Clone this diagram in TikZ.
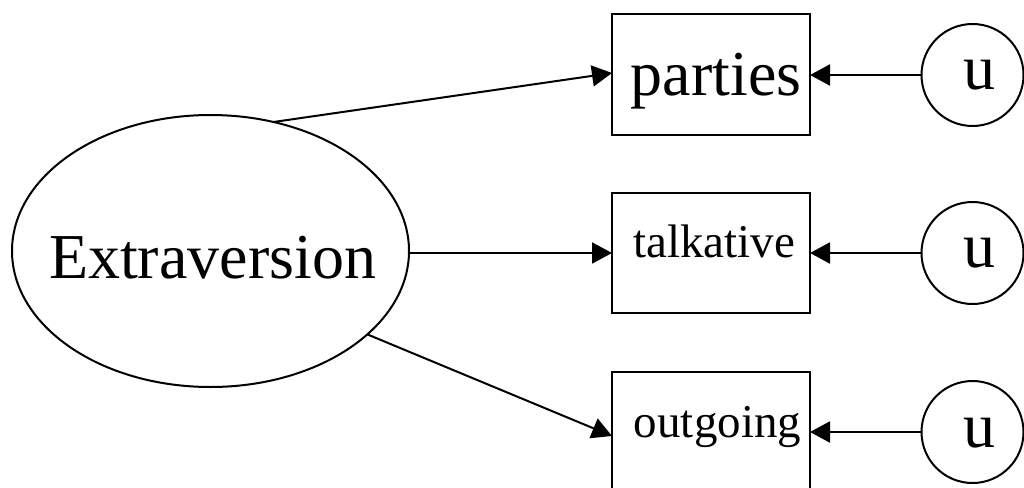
\documentclass[tikz,border=0pt]{standalone}
\usepackage{fontspec}
\setmainfont{Liberation Serif}
\usetikzlibrary{shapes.geometric,arrows.meta}

\tikzset{
  every node/.style={inner sep=0pt, outer sep=0pt},
  shapeline/.style={draw=black, line width=2pt},
  latent/.style={shapeline, ellipse, minimum width=397pt, minimum height=272pt},
  indicator/.style={shapeline, rectangle, minimum width=198pt, minimum height=120pt},
  errorterm/.style={shapeline, circle, minimum size=102pt},
  bigtext/.style={font=\fontsize{64}{70}\selectfont, anchor=base},
  smalltext/.style={font=\fontsize{47}{52}\selectfont, anchor=base},
  path arrow/.style={line width=2pt, -{Triangle[length=20pt,width=21pt]}},
}

\begin{document}
\begin{tikzpicture}[x=1pt, y=-1pt]
  \useasboundingbox (0,0) rectangle (1024,487);
  \clip (0,0) rectangle (1024,487);

  % latent factor
  \node[latent] (ext) at (210.5,251) {};
  \node[bigtext] (extlabel) at (212.5,278) {Extraversion};

  % observed indicators
  \node[indicator] (parties) at (711,74.5) {};
  \node[bigtext] (partieslabel) at (716,95) {parties};
  \node[indicator] (talkative) at (711,253) {};
  \node[smalltext] (talkativelabel) at (714,257) {talkative};
  \node[indicator] (outgoing) at (711,432) {};
  \node[smalltext] (outgoinglabel) at (717.5,437) {outgoing};

  % unique variances
  \node[errorterm] (u1) at (972.5,75) {};
  \node[bigtext] (u1label) at (979,89) {u};
  \node[errorterm] (u2) at (972.5,253) {};
  \node[bigtext] (u2label) at (979,267) {u};
  \node[errorterm] (u3) at (972.5,432) {};
  \node[bigtext] (u3label) at (979,447) {u};

  % loadings
  \draw[path arrow] (ext.64) -- ([yshift=1.5pt]parties.west);
  \draw[path arrow] (talkative.west -| ext.east) -- (talkative.west);
  \draw[path arrow] (ext.-28.4) -- ([yshift=-4pt]outgoing.west);

  % error paths
  \draw[path arrow] (u1.west) -- (u1.west -| parties.east);
  \draw[path arrow] (u2.west) -- (u2.west -| talkative.east);
  \draw[path arrow] (u3.west) -- (u3.west -| outgoing.east);
\end{tikzpicture}
\end{document}
